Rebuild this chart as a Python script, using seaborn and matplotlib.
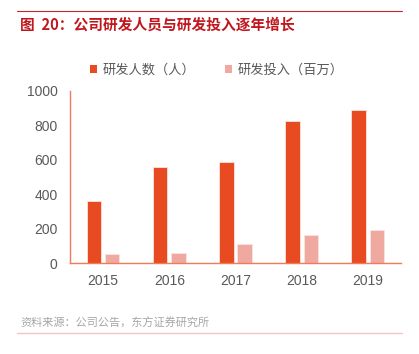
import matplotlib
matplotlib.use("Agg")
import matplotlib.pyplot as plt
import seaborn as sns
import pandas as pd
from matplotlib.lines import Line2D
from matplotlib.patches import Patch
from matplotlib.ticker import FixedLocator

years = ["2015", "2016", "2017", "2018", "2019"]
staff = [361, 559, 585, 825, 891]
invest = [55, 60, 109, 163, 190]
series_names = ["研发人数（人）", "研发投入（百万）"]
yticks = [0, 200, 400, 600, 800, 1000]

title = "图  20：公司研发人员与研发投入逐年增长"
source = "资料来源：公司公告，东方证券研究所"

RED = "#E84A22"
PINK = "#F0A9A0"
SPINE = "#F07A5A"
GRAY = "#595959"

df = pd.DataFrame({
    "year": years * 2,
    "series": [series_names[0]] * len(years) + [series_names[1]] * len(years),
    "value": staff + invest,
})

sns.set_style("white")
plt.rcParams["font.family"] = ["Noto Sans CJK SC", "DejaVu Sans"]

fig = plt.figure(figsize=(4.19, 3.54), dpi=100)
ax = fig.add_axes([0.167, 0.257, 0.790, 0.486])

sns.barplot(data=df, x="year", y="value", hue="series",
            palette=[RED, PINK], saturation=1, width=0.55, gap=0.2,
            edgecolor="#FBE3DD", linewidth=0.6, ax=ax, legend=False)

ax.set_xlim(-0.5, len(years) - 0.5)
ax.set_ylim(0, 1000)
ax.set_yticks(yticks)
ax.set_xlabel("")
ax.set_ylabel("")
for s in ["top", "right"]:
    ax.spines[s].set_visible(False)
for s in ["left", "bottom"]:
    ax.spines[s].set_color(SPINE)
    ax.spines[s].set_linewidth(1.0)

num_font = ["Liberation Sans", "DejaVu Sans"]
ax.tick_params(axis="x", which="major", length=0, pad=8, labelsize=10, labelcolor=GRAY)
ax.xaxis.set_minor_locator(FixedLocator([i - 0.5 for i in range(len(years) + 1)]))
ax.tick_params(axis="x", which="minor", length=4, color=SPINE, direction="out")
ax.tick_params(axis="y", length=3, color=SPINE, direction="out", pad=6,
               labelsize=10, labelcolor=GRAY)
for lab in ax.get_xticklabels() + ax.get_yticklabels():
    lab.set_family(num_font)

handles = [Patch(facecolor=RED, edgecolor="none"), Patch(facecolor=PINK, edgecolor="none")]
fig.legend(handles, series_names, loc="center", bbox_to_anchor=(0.517, 0.802),
           ncol=2, frameon=False, fontsize=9.5, labelcolor=GRAY,
           handlelength=0.6, handleheight=0.6, handletextpad=0.4, columnspacing=2.2)

fig.add_artist(Line2D([0.041, 0.960], [0.969, 0.969], color="#C8242B", linewidth=0.8,
                      transform=fig.transFigure))
fig.text(0.048, 0.929, title, color="#C0171E", fontsize=10.6, fontweight="bold",
         va="center", ha="left")
fig.text(0.048, 0.088, source, color="#A6A6A6", fontsize=8, va="center", ha="left")
fig.add_artist(Line2D([0.041, 0.960], [0.059, 0.059], color="#F2C4C4", linewidth=1.0,
                      transform=fig.transFigure))

fig.savefig("out.png", dpi=100)
